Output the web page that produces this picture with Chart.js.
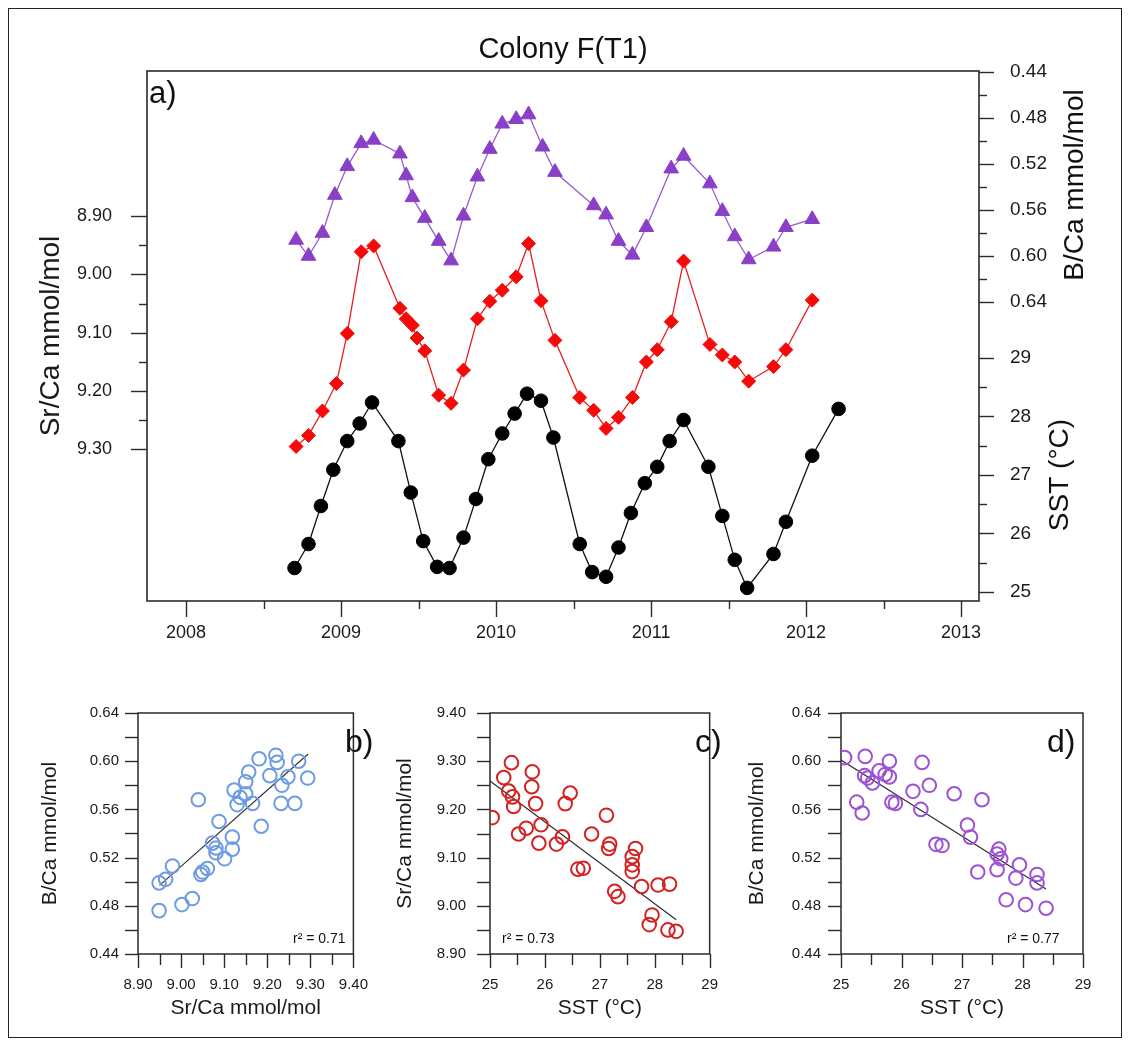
<!DOCTYPE html>
<html>
<head>
<meta charset="utf-8">
<title>Colony F(T1)</title>
<script src="https://cdn.jsdelivr.net/npm/chart.js@4.4.0/dist/chart.umd.min.js"></script>
<style>
  body { margin: 0; background: #fff; }
  #fig { position: relative; width: 1132px; height: 1044px; background: #fff; overflow: hidden; }
  #frame { position: absolute; left: 8px; top: 8px; width: 1114px; height: 1030px; border: 1px solid #222; box-sizing: border-box; }
  canvas { position: absolute; }
</style>
</head>
<body>
<div id="fig">
  <div id="frame"></div>
  <canvas id="series" width="1132" height="680" style="left:0;top:0"></canvas>
  <canvas id="scatB" width="390" height="364" style="left:0;top:680px"></canvas>
  <canvas id="scatC" width="350" height="364" style="left:390px;top:680px"></canvas>
  <canvas id="scatD" width="392" height="364" style="left:740px;top:680px"></canvas>
</div>
<script>
// ---- time series (decimal year) ----
const sstYears = [2008.70, 2008.79, 2008.87, 2008.95, 2009.04, 2009.12, 2009.20, 2009.37, 2009.45, 2009.53,
  2009.62, 2009.70, 2009.79, 2009.87, 2009.95, 2010.04, 2010.12, 2010.20, 2010.29, 2010.37,
  2010.54, 2010.62, 2010.71, 2010.79, 2010.87, 2010.96, 2011.04, 2011.12, 2011.21, 2011.37,
  2011.46, 2011.54, 2011.62, 2011.79, 2011.87, 2012.04, 2012.21];
const sst = [25.41, 25.82, 26.47, 27.09, 27.58, 27.88, 28.24, 27.58, 26.70, 25.87,
  25.43, 25.41, 25.93, 26.59, 27.27, 27.71, 28.05, 28.39, 28.27, 27.64,
  25.82, 25.34, 25.26, 25.76, 26.35, 26.86, 27.14, 27.58, 27.94, 27.14,
  26.30, 25.55, 25.07, 25.65, 26.20, 27.33, 28.13];

const srYears = [2008.71, 2008.79, 2008.88, 2008.97, 2009.04, 2009.13, 2009.21, 2009.38, 2009.42, 2009.46,
  2009.49, 2009.54, 2009.63, 2009.71, 2009.79, 2009.88, 2009.96, 2010.04, 2010.13, 2010.21,
  2010.29, 2010.38, 2010.54, 2010.63, 2010.71, 2010.79, 2010.88, 2010.97, 2011.04, 2011.13,
  2011.21, 2011.38, 2011.46, 2011.54, 2011.63, 2011.79, 2011.87, 2012.04];
const srCa = [9.295, 9.276, 9.234, 9.187, 9.101, 8.961, 8.951, 9.058, 9.076, 9.087,
  9.109, 9.131, 9.207, 9.221, 9.164, 9.076, 9.046, 9.027, 9.004, 8.947,
  9.045, 9.113, 9.211, 9.233, 9.264, 9.245, 9.211, 9.150, 9.129, 9.081,
  8.977, 9.120, 9.138, 9.150, 9.183, 9.158, 9.129, 9.044];

const bYears = [2008.71, 2008.79, 2008.88, 2008.96, 2009.04, 2009.13, 2009.21, 2009.38, 2009.42, 2009.46,
  2009.54, 2009.63, 2009.71, 2009.79, 2009.88, 2009.96, 2010.04, 2010.13, 2010.21, 2010.30,
  2010.38, 2010.63, 2010.71, 2010.79, 2010.88, 2010.97, 2011.13, 2011.21, 2011.38, 2011.46,
  2011.54, 2011.63, 2011.79, 2011.87, 2012.04];
const bCa = [0.586, 0.600, 0.580, 0.547, 0.522, 0.502, 0.499, 0.511, 0.530, 0.549,
  0.567, 0.587, 0.604, 0.565, 0.531, 0.507, 0.485, 0.481, 0.477, 0.505,
  0.527, 0.556, 0.564, 0.587, 0.599, 0.575, 0.524, 0.513, 0.537, 0.561,
  0.583, 0.603, 0.592, 0.575, 0.568];

// ---- tick labels ----
const yearTicks = [2008, 2009, 2010, 2011, 2012, 2013];
const srTicks = [8.90, 9.00, 9.10, 9.20, 9.30];
const bTicks = [0.44, 0.48, 0.52, 0.56, 0.60, 0.64];
const sstTicks = [25, 26, 27, 28, 29];
const srScatterTicks = [8.90, 9.00, 9.10, 9.20, 9.30, 9.40];

// ---- cross plots ----
// b) Sr/Ca vs B/Ca
const plotBx = [8.949, 8.949, 8.964, 8.980, 9.002, 9.026, 9.040, 9.046, 9.050, 9.061,
  9.073, 9.081, 9.088, 9.081, 9.101, 9.119, 9.119, 9.123, 9.130, 9.137,
  9.150, 9.157, 9.150, 9.166, 9.181, 9.186, 9.206, 9.220, 9.223, 9.232,
  9.234, 9.248, 9.264, 9.273, 9.294];
const plotBy = [0.476, 0.499, 0.502, 0.513, 0.481, 0.486, 0.568, 0.506, 0.508, 0.511,
  0.532, 0.528, 0.550, 0.524, 0.519, 0.537, 0.527, 0.576, 0.564, 0.570,
  0.583, 0.591, 0.573, 0.565, 0.602, 0.546, 0.588, 0.605, 0.599, 0.565,
  0.580, 0.587, 0.565, 0.600, 0.586];
const fitBx = [8.95, 9.295];
const fitBy = [0.497, 0.606];

// c) SST vs Sr/Ca
const plotCx = [25.04, 25.25, 25.39, 25.34, 25.41, 25.43, 25.52, 25.66, 25.77, 25.76,
  25.83, 25.93, 25.89, 26.21, 26.32, 26.37, 26.46, 26.60, 26.70, 26.85,
  27.12, 27.18, 27.16, 27.27, 27.33, 27.59, 27.59, 27.59, 27.65, 27.76,
  28.06, 27.95, 27.90, 28.27, 28.24, 28.39];
const plotCy = [9.183, 9.266, 9.297, 9.238, 9.226, 9.206, 9.149, 9.161, 9.278, 9.247,
  9.212, 9.168, 9.130, 9.128, 9.143, 9.212, 9.234, 9.076, 9.078, 9.149,
  9.188, 9.128, 9.119, 9.030, 9.019, 9.102, 9.085, 9.071, 9.119, 9.040,
  9.043, 8.981, 8.961, 9.045, 8.950, 8.947];
const fitCx = [25.0, 28.39];
const fitCy = [9.259, 8.971];

// d) SST vs B/Ca
const plotDx = [25.06, 25.40, 25.26, 25.35, 25.39, 25.44, 25.52, 25.63, 25.73, 25.80,
  25.80, 25.84, 25.90, 26.19, 26.32, 26.34, 26.46, 26.57, 26.67, 26.87,
  27.09, 27.14, 27.26, 27.33, 27.58, 27.61, 27.64, 27.58, 27.73, 27.95,
  27.89, 28.05, 28.24, 28.24, 28.39];
const plotDy = [0.603, 0.604, 0.566, 0.557, 0.588, 0.586, 0.582, 0.592, 0.589, 0.600,
  0.587, 0.566, 0.565, 0.575, 0.560, 0.599, 0.580, 0.531, 0.530, 0.573,
  0.547, 0.537, 0.508, 0.568, 0.523, 0.527, 0.519, 0.510, 0.485, 0.514,
  0.503, 0.481, 0.506, 0.499, 0.478];
const fitDx = [25.0, 28.39];
const fitDy = [0.601, 0.494];

const SANS = '"Liberation Sans", Arial, sans-serif';
Chart.defaults.font.family = SANS;
Chart.defaults.color = '#1a1a1a';

const pts = (xs, ys) => xs.map((x, i) => ({ x: x, y: ys[i] }));
const steps = (from, to, step) => {
  const out = [];
  for (let v = from; v <= to + step / 10; v += step) out.push(+v.toFixed(4));
  return out;
};

// frame, tick marks (major + minor), extra labels and annotations
const axisDecor = {
  id: 'axisDecor',
  beforeDatasetsDraw(chart, args, opts) {
    const ctx = chart.ctx, a = chart.chartArea;
    ctx.save();
    ctx.strokeStyle = '#2a2a2a';
    ctx.lineWidth = opts.frameWidth || 1.6;
    ctx.strokeRect(a.left, a.top, a.right - a.left, a.bottom - a.top);
    ctx.lineWidth = opts.tickWidth || 1.4;
    (opts.marks || []).forEach(m => {
      const s = chart.scales[m.scale];
      m.values.forEach(v => {
        const p = Math.round(s.getPixelForValue(v)) + 0.5;
        ctx.beginPath();
        if (m.side === 'bottom') { ctx.moveTo(p, a.bottom); ctx.lineTo(p, a.bottom + m.len); }
        else if (m.side === 'left') { ctx.moveTo(a.left, p); ctx.lineTo(a.left - m.len, p); }
        else { ctx.moveTo(a.right, p); ctx.lineTo(a.right + m.len, p); }
        ctx.stroke();
      });
    });
    ctx.restore();
  },
  afterDraw(chart, args, opts) {
    const ctx = chart.ctx, a = chart.chartArea;
    ctx.save();
    (opts.sideLabels || []).forEach(l => {
      const s = chart.scales[l.scale];
      ctx.font = l.font;
      ctx.fillStyle = '#1a1a1a';
      ctx.textAlign = 'left';
      ctx.textBaseline = 'middle';
      l.values.forEach(v => ctx.fillText(l.format(v), a.right + l.gap, s.getPixelForValue(v)));
    });
    (opts.texts || []).forEach(t => {
      ctx.save();
      ctx.font = t.font;
      ctx.fillStyle = '#111';
      ctx.textAlign = t.align || 'left';
      ctx.textBaseline = t.baseline || 'alphabetic';
      ctx.translate(t.x, t.y);
      if (t.rotate) ctx.rotate(t.rotate);
      ctx.fillText(t.text, 0, 0);
      ctx.restore();
    });
    ctx.restore();
  }
};

// ---- a) time series ----
new Chart(document.getElementById('series'), {
  type: 'scatter',
  data: {
    datasets: [
      {
        label: 'B/Ca', data: pts(bYears, bCa), yAxisID: 'yB', showLine: true,
        borderColor: '#9a5ccf', borderWidth: 1.3, pointStyle: 'triangle', pointRadius: 8.5,
        pointBackgroundColor: '#8a3fc7', pointBorderColor: '#8a3fc7', pointBorderWidth: 1
      },
      {
        label: 'Sr/Ca', data: pts(srYears, srCa), yAxisID: 'ySr', showLine: true,
        borderColor: '#e62020', borderWidth: 1.3, pointStyle: 'rectRot', pointRadius: 7,
        pointBackgroundColor: '#f50a0a', pointBorderColor: '#f50a0a', pointBorderWidth: 1
      },
      {
        label: 'SST', data: pts(sstYears, sst), yAxisID: 'ySST', showLine: true,
        borderColor: '#111', borderWidth: 1.3, pointStyle: 'circle', pointRadius: 6.8,
        pointBackgroundColor: '#000', pointBorderColor: '#000', pointBorderWidth: 1
      }
    ]
  },
  options: {
    responsive: false, animation: false, devicePixelRatio: 1,
    layout: { padding: { top: 71, right: 153, left: 0, bottom: 0 } },
    plugins: {
      legend: { display: false }, tooltip: { enabled: false },
      axisDecor: {
        marks: [
          { scale: 'x', side: 'bottom', values: yearTicks, len: 16 },
          { scale: 'x', side: 'bottom', values: steps(2008.5, 2012.5, 1), len: 8 },
          { scale: 'ySr', side: 'left', values: srTicks, len: 16 },
          { scale: 'ySr', side: 'left', values: steps(8.95, 9.25, 0.1), len: 8 },
          { scale: 'yB', side: 'right', values: bTicks, len: 15 },
          { scale: 'yB', side: 'right', values: steps(0.46, 0.62, 0.04), len: 8 },
          { scale: 'ySST', side: 'right', values: sstTicks, len: 15 },
          { scale: 'ySST', side: 'right', values: steps(25.5, 28.5, 1), len: 8 }
        ],
        sideLabels: [
          { scale: 'yB', values: bTicks, gap: 31, font: '19px ' + SANS, format: v => v.toFixed(2) },
          { scale: 'ySST', values: sstTicks, gap: 31, font: '19px ' + SANS, format: v => String(v) }
        ],
        texts: [
          { text: 'Colony F(T1)', x: 563, y: 58, font: '29px ' + SANS, align: 'center' },
          { text: 'a)', x: 149, y: 103, font: '31px ' + SANS },
          { text: 'B/Ca mmol/mol', x: 1075, y: 185, font: '28px ' + SANS, align: 'center', baseline: 'middle', rotate: -Math.PI / 2 },
          { text: 'SST (°C)', x: 1060, y: 475, font: '28px ' + SANS, align: 'center', baseline: 'middle', rotate: -Math.PI / 2 }
        ]
      }
    },
    scales: {
      x: {
        type: 'linear', min: 2007.748, max: 2013.116,
        grid: { display: false, drawTicks: false }, border: { display: false },
        afterBuildTicks: s => { s.ticks = yearTicks.map(v => ({ value: v })); },
        afterFit: s => { s.height = 79; },
        ticks: { autoSkip: false, maxRotation: 0, padding: 21, font: { size: 18 }, callback: v => String(v) }
      },
      ySr: {
        type: 'linear', position: 'left', reverse: true, min: 8.651, max: 9.560,
        grid: { display: false, drawTicks: false }, border: { display: false },
        afterBuildTicks: s => { s.ticks = srTicks.map(v => ({ value: v })); },
        afterFit: s => { s.width = 147; },
        ticks: { padding: 35, font: { size: 18 }, callback: v => v.toFixed(2) },
        title: { display: true, text: 'Sr/Ca mmol/mol', font: { size: 28, lineHeight: 1.2 }, padding: { top: 34, bottom: 0 } }
      },
      yB: { type: 'linear', position: 'right', display: false, reverse: true, min: 0.4391, max: 0.900 },
      ySST: { type: 'linear', position: 'right', display: false, min: 24.846, max: 33.906 }
    }
  },
  plugins: [axisDecor]
});

// ---- cross plots ----
function crossPlot(id, cfg) {
  return new Chart(document.getElementById(id), {
    type: 'scatter',
    data: {
      datasets: [
        {
          data: pts(cfg.xs, cfg.ys), pointStyle: 'circle', pointRadius: 6.8,
          pointBackgroundColor: 'rgba(0,0,0,0)', pointBorderColor: cfg.color, pointBorderWidth: 2
        },
        {
          data: pts(cfg.fitX, cfg.fitY), showLine: true, pointRadius: 0,
          borderColor: '#2a2a2a', borderWidth: 1.1
        }
      ]
    },
    options: {
      responsive: false, animation: false, devicePixelRatio: 1,
      layout: { padding: { top: 33, right: cfg.padRight, left: 0, bottom: 0 } },
      plugins: {
        legend: { display: false }, tooltip: { enabled: false },
        axisDecor: {
          frameWidth: 1.5, tickWidth: 1.4,
          marks: [
            { scale: 'x', side: 'bottom', values: cfg.xMajor, len: 14 },
            { scale: 'x', side: 'bottom', values: cfg.xMinor, len: 11 },
            { scale: 'y', side: 'left', values: cfg.yMajor, len: 13 },
            { scale: 'y', side: 'left', values: cfg.yMinor, len: 13 }
          ],
          texts: [
            { text: cfg.tag, x: cfg.tagX, y: 72, font: '32px ' + SANS },
            { text: cfg.r2, x: cfg.r2X, y: 263, font: '14px ' + SANS }
          ]
        }
      },
      scales: {
        x: {
          type: 'linear', min: cfg.xMin, max: cfg.xMax,
          grid: { display: false, drawTicks: false }, border: { display: false },
          afterBuildTicks: s => { s.ticks = cfg.xMajor.map(v => ({ value: v })); },
          afterFit: s => { s.height = 90; },
          ticks: { autoSkip: false, maxRotation: 0, padding: 22, font: { size: 15 }, callback: cfg.xFmt },
          title: { display: true, text: cfg.xTitle, font: { size: 21, lineHeight: 1.2 }, padding: { top: 0, bottom: 23 } }
        },
        y: {
          type: 'linear', min: cfg.yMin, max: cfg.yMax,
          grid: { display: false, drawTicks: false }, border: { display: false },
          afterBuildTicks: s => { s.ticks = cfg.yMajor.map(v => ({ value: v })); },
          afterFit: s => { s.width = cfg.yWidth; },
          ticks: { padding: cfg.yPad, font: { size: 15 }, callback: v => v.toFixed(2) },
          title: { display: true, text: cfg.yTitle, font: { size: 21, lineHeight: 1.2 }, padding: { top: cfg.yTitlePad, bottom: 0 } }
        }
      }
    },
    plugins: [axisDecor]
  });
}

crossPlot('scatB', {
  xs: plotBx, ys: plotBy, fitX: fitBx, fitY: fitBy, color: '#6e9be2',
  xMin: 8.90, xMax: 9.40, yMin: 0.44, yMax: 0.64,
  xMajor: srScatterTicks, xMinor: steps(8.95, 9.35, 0.1),
  yMajor: bTicks, yMinor: steps(0.46, 0.62, 0.04),
  xFmt: v => v.toFixed(2), xTitle: 'Sr/Ca mmol/mol', yTitle: 'B/Ca mmol/mol',
  yWidth: 138, yTitlePad: 38, yPad: 19, padRight: 9,
  tag: 'b)', tagX: 345, r2: 'r² = 0.71', r2X: 293
});

crossPlot('scatC', {
  xs: plotCx, ys: plotCy, fitX: fitCx, fitY: fitCy, color: '#d42222',
  xMin: 25, xMax: 29, yMin: 8.90, yMax: 9.40,
  xMajor: sstTicks, xMinor: steps(25.5, 28.5, 1),
  yMajor: srScatterTicks, yMinor: steps(8.95, 9.35, 0.1),
  xFmt: v => String(v), xTitle: 'SST (°C)', yTitle: 'Sr/Ca mmol/mol',
  yWidth: 100, yTitlePad: 3, yPad: 24, padRight: 8,
  tag: 'c)', tagX: 305, r2: 'r² = 0.73', r2X: 112
});

crossPlot('scatD', {
  xs: plotDx, ys: plotDy, fitX: fitDx, fitY: fitDy, color: '#9c52d3',
  xMin: 25, xMax: 29, yMin: 0.44, yMax: 0.64,
  xMajor: sstTicks, xMinor: steps(25.5, 28.5, 1),
  yMajor: bTicks, yMinor: steps(0.46, 0.62, 0.04),
  xFmt: v => String(v), xTitle: 'SST (°C)', yTitle: 'B/Ca mmol/mol',
  yWidth: 101, yTitlePad: 5, yPad: 20, padRight: 49,
  tag: 'd)', tagX: 307, r2: 'r² = 0.77', r2X: 267
});
</script>
</body>
</html>
